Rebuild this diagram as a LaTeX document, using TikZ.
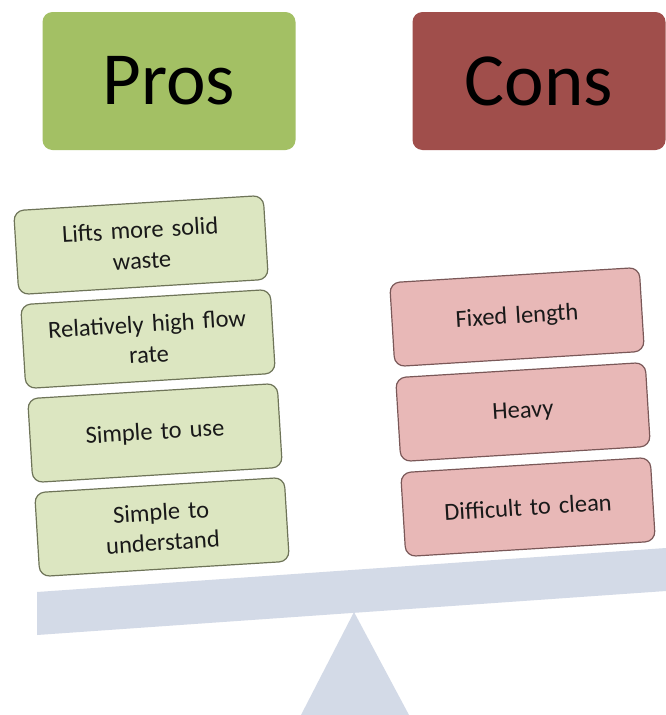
\documentclass[tikz,border=0pt]{standalone}
\usepackage{fontspec}
\setmainfont{Carlito}
\definecolor{prosHead}{HTML}{A3C064}
\definecolor{consHead}{HTML}{A04E4B}
\definecolor{prosFill}{HTML}{DCE6C1}
\definecolor{prosLine}{HTML}{6E7458}
\definecolor{consFill}{HTML}{E8B8B7}
\definecolor{consLine}{HTML}{7A5858}
\definecolor{beamFill}{HTML}{D3DAE7}
\newcommand{\itemfont}{\fontsize{24.5}{30.5}\selectfont\spaceskip=0.11em plus 0.02em\relax}
\begin{document}
\begin{tikzpicture}[x=1pt,y=-1pt,
  head/.style={rounded corners=10pt, minimum width=253pt, minimum height=138pt,
    font=\fontsize{75}{75}\selectfont, text=black, inner sep=0pt},
  item/.style={rounded corners=10pt, minimum width=250pt, minimum height=84pt,
    draw, line width=1.2pt, align=center, text width=240pt, inner sep=0pt,
    font=\itemfont, text=black!90, rotate=3.5},
  proitem/.style={item, fill=prosFill, draw=prosLine},
  conitem/.style={item, fill=consFill, draw=consLine}]
\useasboundingbox (0,0) rectangle (666,715);
\fill[white] (0,0) rectangle (666,715);
% beam and fulcrum
\coordinate (bTL) at (37,592);
\coordinate (bBL) at (37,635);
\coordinate (bTR) at (666,548);
\coordinate (bBR) at (666,591);
\coordinate (apex) at (354,612);
\coordinate (baseL) at (301,715);
\coordinate (baseR) at (409,715);
\fill[beamFill] (apex) -- (baseR) -- (baseL) -- cycle;
\fill[beamFill] (bTL) -- (bTR) -- (bBR) -- (bBL) -- cycle;
% headers
\node[head, fill=prosHead] (pros) at (169,81) {Pros};
\node[head, fill=consHead] (cons) at (539,81) {Cons};
% pros items
\node[proitem] (p1) at (141,245) {Lifts more solid\\waste};
\node[proitem] (p2) at (148,339) {Relatively high flow\\rate};
\node[proitem] (p3) at (155,433) {Simple to use};
\node[proitem] (p4) at (162,527) {Simple to\\understand};
% cons items
\node[conitem] (c1) at (517,317) {Fixed length};
\node[conitem] (c2) at (523,412) {Heavy};
\node[conitem] (c3) at (528,507) {Difficult to clean};
\end{tikzpicture}
\end{document}
